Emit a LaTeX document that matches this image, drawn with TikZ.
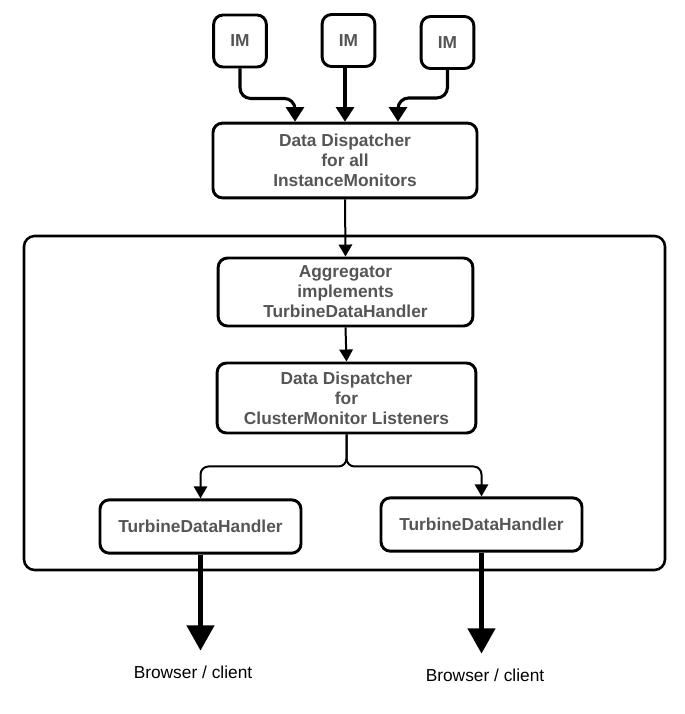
\documentclass[tikz,border=0pt]{standalone}
\usepackage{fontspec}
\setmainfont{Liberation Sans}
\usetikzlibrary{arrows.meta,calc}

\definecolor{txtgray}{HTML}{555555}

\tikzset{
  box/.style={draw, line width=2.2pt, rounded corners=7pt, align=center,
    text=txtgray, font=\bfseries\fontsize{13}{15}\selectfont, inner sep=0pt},
  imarrow/.style={line width=2.3pt, rounded corners=8pt, -{Triangle[width=13.5pt,length=11pt]}},
  thinarrow/.style={line width=1.5pt, rounded corners=6pt, -{Triangle[width=10pt,length=9pt]}},
  bigarrow/.style={line width=4pt, -{Triangle[width=20pt,length=19pt]}},
  client/.style={font=\fontsize{13}{15}\selectfont, inner sep=2pt}
}

\begin{document}
\begin{tikzpicture}[x=0.75pt,y=0.75pt,yscale=-1,xscale=1]
\useasboundingbox (0,0) rectangle (685,714);

%Outer cluster frame
\node[draw, line width=1.9pt, rounded corners=8pt, minimum width=480.75pt, minimum height=250.5pt, inner sep=0pt] (cluster) at (344.5,403) {};

%Instance monitors
\node[box, minimum width=39.5pt, minimum height=39pt] (im1) at (240,41) {IM};
\node[box, minimum width=39.5pt, minimum height=39pt] (im2) at (348.5,40.5) {IM};
\node[box, minimum width=39.5pt, minimum height=39pt] (im3) at (447.5,42.5) {IM};

%Dispatchers and aggregator
\node[box, minimum width=198pt, minimum height=56pt] (disp) at (345,160.5) {Data Dispatcher\\for all\\InstanceMonitors};
\node[box, minimum width=191pt, minimum height=51pt] (agg) at (345.5,292) {Aggregator\\implements\\TurbineDataHandler};
\node[box, minimum width=194pt, minimum height=52.5pt] (cdisp) at (346.5,398) {Data Dispatcher\\for\\ClusterMonitor Listeners};

%Handlers
\node[box, minimum width=150.75pt, minimum height=40pt] (tdh1) at (200.5,526.5) {TurbineDataHandler};
\node[box, minimum width=150.75pt, minimum height=40pt] (tdh2) at (481.5,524.5) {TurbineDataHandler};

%Clients
\node[client] (cl1) at (193,672) {Browser / client};
\node[client] (cl2) at (485,675) {Browser / client};

%Connectors
\draw[imarrow] (im1.south) -- ++(0,30) -| ($(disp.north)+(-50,0)$);
\draw[imarrow] (im2.south -| disp.north) -- (disp.north);
\draw[imarrow] (im3.south) -- ++(0,28) -| ($(disp.north)+(53,0)$);
\draw[thinarrow] (disp.south) -- (agg.north);
\draw[thinarrow] (agg.south) -- (cdisp.north);
\draw[thinarrow] (cdisp.south) -- ++(0,32) -| (tdh1.north);
\draw[thinarrow] (cdisp.south) -- ++(0,32) -| (tdh2.north);
\draw[bigarrow, shorten >=9pt] (tdh1.south) -- (tdh1.south |- cl1.north);
\draw[bigarrow, shorten >=9pt] (tdh2.south) -- (tdh2.south |- cl2.north);

\end{tikzpicture}
\end{document}
